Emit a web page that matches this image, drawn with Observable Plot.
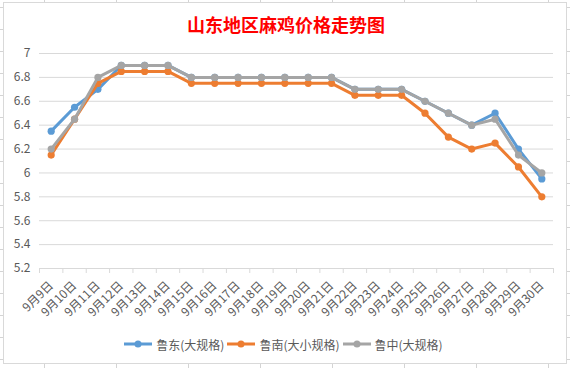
<!DOCTYPE html>
<html>
<head>
<meta charset="utf-8">
<script src="https://cdn.jsdelivr.net/npm/d3@7"></script>
<script src="https://cdn.jsdelivr.net/npm/@observablehq/plot@0.6"></script>
<style>
  html, body { margin: 0; padding: 0; }
  body {
    width: 570px; height: 368px; position: relative; overflow: hidden;
    background-color: #fff;
    background-image:
      repeating-linear-gradient(to right, transparent 0, transparent 44px, #d4d4d4 44px, #d4d4d4 45px, transparent 45px, transparent 72px),
      repeating-linear-gradient(to bottom, transparent 0, transparent 7px, #d4d4d4 7px, #d4d4d4 8px, transparent 8px, transparent 22px);
    background-size: 72px 22px, 72px 22px;
    background-position: 0 0, 0 0;
    font-family: "Noto Sans CJK SC", "Noto Sans", sans-serif;
  }
  #box {
    position: absolute; left: 3px; top: 2px; width: 564px; height: 362px;
    box-sizing: border-box; border: 1px solid #d9d9d9; background: #fff;
  }
  #title {
    height: 34px; line-height: 34px; padding-top: 4px; text-align: center; color: #ff0000;
    font-size: 18px; font-weight: bold; padding-left: 2px;
  }
  #chart svg { display: block; }
  #legend {
    display: flex; justify-content: center; align-items: center;
    height: 18px; font-size: 12px; color: #595959;
  }
  .item { display: flex; align-items: center; }
  .item svg { margin-right: 4px; }
  .item span { margin-right: 3px; }
</style>
</head>
<body>
<div id="box">
  <div id="title">山东地区麻鸡价格走势图</div>
  <div id="chart"></div>
  <div id="legend"></div>
</div>
<script>
const dates = ["9月9日","9月10日","9月11日","9月12日","9月13日","9月14日","9月15日","9月16日","9月17日","9月18日","9月19日","9月20日","9月21日","9月22日","9月23日","9月24日","9月25日","9月26日","9月27日","9月28日","9月29日","9月30日"];
const ludong  = [6.35,6.55,6.70,6.90,6.90,6.90,6.80,6.80,6.80,6.80,6.80,6.80,6.80,6.70,6.70,6.70,6.60,6.50,6.40,6.50,6.20,5.95];
const lunan   = [6.15,6.45,6.75,6.85,6.85,6.85,6.75,6.75,6.75,6.75,6.75,6.75,6.75,6.65,6.65,6.65,6.50,6.30,6.20,6.25,6.05,5.80];
const luzhong = [6.20,6.45,6.80,6.90,6.90,6.90,6.80,6.80,6.80,6.80,6.80,6.80,6.80,6.70,6.70,6.70,6.60,6.50,6.40,6.45,6.15,6.00];
const seriesNames = ["鲁东(大规格)","鲁南(大小规格)","鲁中(大规格)"];
const seriesColors = ["#5b9bd5","#ed7d31","#a5a5a5"];
const yTicks = [5.2,5.4,5.6,5.8,6,6.2,6.4,6.6,6.8,7];

const seriesValues = [ludong, lunan, luzhong];
const idx = dates.map((d, i) => i);
const bounds = d3.range(dates.length + 1).map(i => i - 0.5);

const marks = [
  Plot.gridY(yTicks, {stroke: "#d9d9d9", strokeOpacity: 1, strokeWidth: 1}),
  Plot.axisY(yTicks, {tickSize: 0, tickPadding: 9, tickFormat: d => String(+d.toFixed(1)), fill: "#595959", label: null, fontSize: 12}),
  Plot.axisX(bounds, {tickSize: 5, tickFormat: () => "", stroke: "#d9d9d9", label: null}),
  Plot.axisX(idx, {tickSize: 0, tickPadding: 15, tickFormat: i => dates[i], tickRotate: -45, fill: "#595959", label: null, fontSize: 12})
];
seriesValues.forEach((vals, k) => {
  const data = vals.map((v, i) => ({i, v}));
  marks.push(Plot.line(data, {x: "i", y: "v", stroke: seriesColors[k], strokeWidth: 3, strokeLinejoin: "round"}));
  marks.push(Plot.dot(data, {x: "i", y: "v", fill: seriesColors[k], r: 3.6}));
});

const chart = Plot.plot({
  width: 562, height: 294,
  marginLeft: 35, marginRight: 13, marginTop: 12, marginBottom: 67,
  x: {type: "linear", domain: [-0.5, dates.length - 0.5]},
  y: {domain: [5.2, 7]},
  style: {fontFamily: '"Noto Sans CJK SC", "Noto Sans", sans-serif', fontSize: "12px", color: "#595959", background: "transparent"},
  marks
});
document.getElementById("chart").appendChild(chart);

const legend = document.getElementById("legend");
seriesNames.forEach((name, k) => {
  const item = document.createElement("div");
  item.className = "item";
  item.innerHTML = `<svg width="28" height="10"><line x1="0" y1="5" x2="28" y2="5" stroke="${seriesColors[k]}" stroke-width="3"/><circle cx="14" cy="5" r="3.5" fill="${seriesColors[k]}"/></svg><span>${name}</span>`;
  legend.appendChild(item);
});
</script>
</body>
</html>
